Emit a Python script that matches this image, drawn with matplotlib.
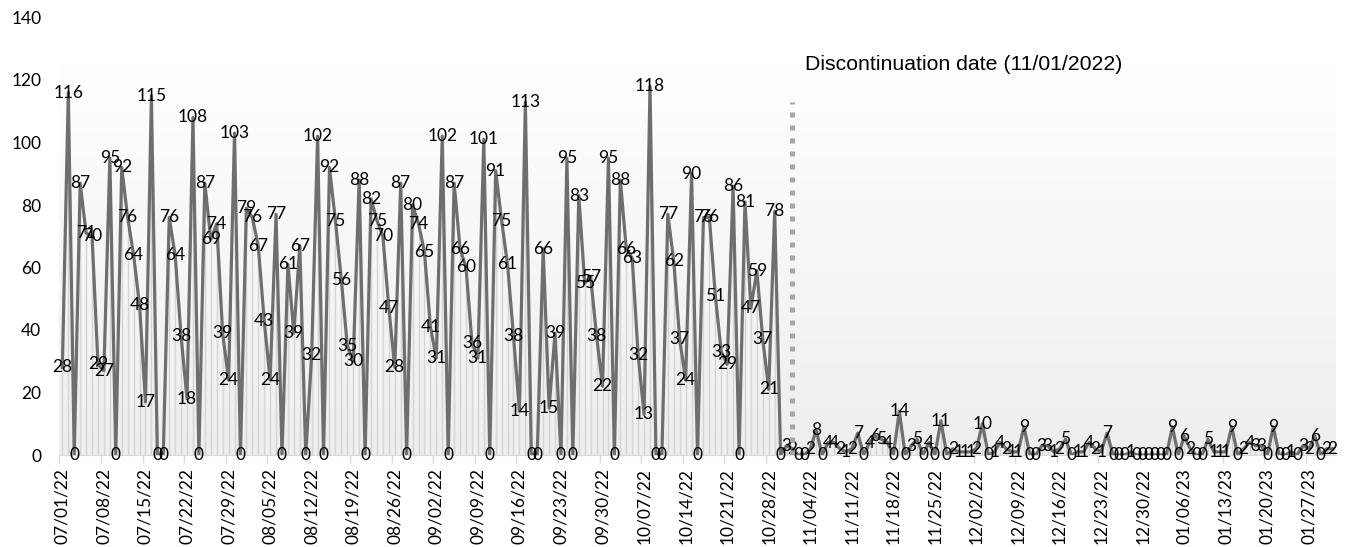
import numpy as np
import pandas as pd
import matplotlib
matplotlib.use("Agg")
import matplotlib.pyplot as plt

# daily values, starting 07/01/22
start_date = "2022-07-01"
daily_counts = [
    28, 116, 0, 87, 71, 70, 29,
    27, 95, 0, 92, 76, 64, 48,
    17, 115, 0, 0, 76, 64, 38,
    18, 108, 0, 87, 69, 74, 39,
    24, 103, 0, 79, 76, 67, 43,
    24, 77, 0, 61, 39, 67, 0,
    32, 102, 0, 92, 75, 56, 35,
    30, 88, 0, 82, 75, 70, 47,
    28, 87, 0, 80, 74, 65, 41,
    31, 102, 0, 87, 66, 60, 36,
    31, 101, 0, 91, 75, 61, 38,
    14, 113, 0, 0, 66, 15, 39,
    0, 95, 0, 83, 55, 57, 38,
    22, 95, 0, 88, 66, 63, 32,
    13, 118, 0, 0, 77, 62, 37,
    24, 90, 0, 76, 76, 51, 33,
    29, 86, 0, 81, 47, 59, 37,
    21, 78, 0, 3, 2, 0, 0,
    2, 8, 0, 4, 4, 2, 1,
    2, 7, 0, 4, 6, 5, 4,
    0, 14, 0, 3, 5, 0, 4,
    0, 11, 0, 2, 1, 1, 1,
    2, 10, 0, 1, 4, 2, 1,
    1, 9, 0, 0, 3, 3, 1,
    2, 5, 0, 1, 1, 4, 2,
    1, 7, 0, 0, 0, 1, 0,
    0, 0, 0, 0, 0, 9, 0,
    6, 2, 0, 0, 5, 1, 1,
    1, 9, 0, 2, 4, 3, 3,
    0, 9, 0, 0, 1, 0, 3,
    2, 6, 0, 2, 2,
]
discontinuation_date = "2022-11-01"
discontinuation_label = "Discontinuation date (11/01/2022)"
discontinuation_height = 113
y_ticks = list(range(0, 141, 20))

dates = pd.date_range(start_date, periods=len(daily_counts), freq="D")
x = np.arange(len(daily_counts))
counts = np.array(daily_counts)
disc_idx = int(np.where(dates == pd.Timestamp(discontinuation_date))[0][0])

fig = plt.figure(figsize=(13.45, 5.47), dpi=100)
ax = fig.add_axes([59.4 / 1345, 92 / 547, 1276.2 / 1345, 437.5 / 547])
ax.set_xlim(-0.5, len(x) - 0.5)
ax.set_ylim(0, 140)

# plot area gradient, white at the top fading to light grey
v = np.linspace(140, 0, 300)
shade = 255 - 17 * np.clip(1 - v / 125, 0, 1)
grad = np.repeat((shade / 255)[:, None], 3, axis=1)[:, None, :]
ax.imshow(grad, extent=[-0.5, len(x) - 0.5, 0, 140], aspect="auto", zorder=0)

ax.vlines(x, 0, counts, colors="#d4d4d4", lw=1, zorder=1)
ax.plot(x, counts, color="#6e6e6e", lw=2.3, solid_joinstyle="round", zorder=3)

for xi, val in zip(x, counts):
    ax.text(xi, val, str(val), ha="center", va="center", fontsize=12.5,
            family="Lato", color="black", zorder=4)

ax.plot([disc_idx, disc_idx], [0, discontinuation_height], color="#a6a6a6",
        lw=3.6, ls=(0, (1, 1.6)), dash_capstyle="butt", zorder=5)
ax.text(disc_idx + 2.1, 124.8, discontinuation_label, ha="left", va="center",
        fontsize=15.3, family="Liberation Sans", color="black")

ax.set_xticks(x[::7])
ax.set_xticklabels([d.strftime("%m/%d/%y") for d in dates[::7]], rotation=90,
                   family="Lato", fontsize=12.5)
ax.set_xticks(x[::7] - 0.5, minor=True)
ax.tick_params(axis="x", which="major", length=0, pad=9.5)
ax.tick_params(axis="x", which="minor", length=6, color="#d9d9d9", width=1)

ax.set_yticks(y_ticks)
ax.set_yticklabels([str(t) for t in y_ticks], family="Lato", fontsize=12.5)
ax.tick_params(axis="y", length=0, pad=13)

for side in ["top", "right", "left"]:
    ax.spines[side].set_visible(False)
ax.spines["bottom"].set_color("#d9d9d9")
ax.spines["bottom"].set_zorder(2)

fig.savefig("out.png", dpi=100)
